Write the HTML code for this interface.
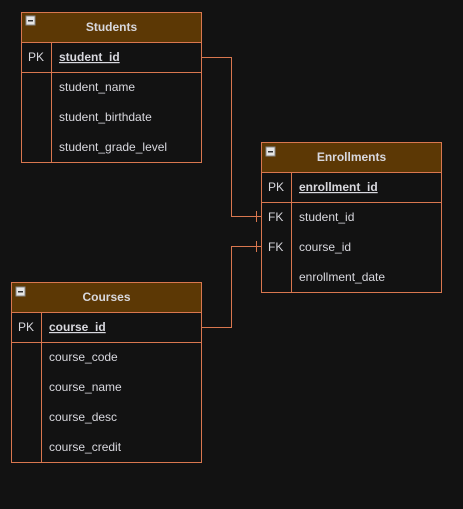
<!DOCTYPE html>
<html><head><meta charset="utf-8"><style>
html,body{margin:0;padding:0;background:#121212;}
svg{display:block;font-family:"Liberation Sans",sans-serif;}
</style></head><body>
<svg width="463" height="509" viewBox="0 0 463 509" xmlns="http://www.w3.org/2000/svg">
<rect width="463" height="509" fill="#121212"/>
<defs>
<g id="mini"><rect x="0" y="0" width="9" height="9" fill="#e6e6e6" stroke="#888" stroke-width="1"/><rect x="2" y="4" width="5" height="1.5" fill="#333"/></g>
</defs>
<g fill="none" stroke="#d9774f" stroke-width="1">
<rect x="21.5" y="12.5" width="180" height="150" fill="#121212"/>
<rect x="21.5" y="12.5" width="180" height="30" fill="#5c3805"/>
<line x1="21.5" y1="72.5" x2="201.5" y2="72.5"/>
<line x1="51.5" y1="42.5" x2="51.5" y2="162.5"/>
<rect x="261.5" y="142.5" width="180" height="150" fill="#121212"/>
<rect x="261.5" y="142.5" width="180" height="30" fill="#5c3805"/>
<line x1="261.5" y1="202.5" x2="441.5" y2="202.5"/>
<line x1="291.5" y1="172.5" x2="291.5" y2="292.5"/>
<rect x="11.5" y="282.5" width="190" height="180" fill="#121212"/>
<rect x="11.5" y="282.5" width="190" height="30" fill="#5c3805"/>
<line x1="11.5" y1="342.5" x2="201.5" y2="342.5"/>
<line x1="41.5" y1="312.5" x2="41.5" y2="462.5"/>
<polyline points="202,57.5 231.5,57.5 231.5,216.5 261,216.5"/>
<line x1="256.5" y1="211" x2="256.5" y2="222"/>
<polyline points="202,327.5 231.5,327.5 231.5,246.5 261,246.5"/>
<line x1="256.5" y1="241" x2="256.5" y2="252"/>
</g>
<use href="#mini" x="26" y="16"/>
<use href="#mini" x="266" y="147"/>
<use href="#mini" x="16" y="287"/>
<g fill="#d8d8de" font-size="12">
<text x="111.5" y="31" text-anchor="middle" font-weight="bold">Students</text>
<text x="28" y="61">PK</text>
<text x="59" y="61" font-weight="bold" text-decoration="underline">student_id</text>
<text x="59" y="91">student_name</text>
<text x="59" y="121">student_birthdate</text>
<text x="59" y="151">student_grade_level</text>

<text x="351.5" y="161" text-anchor="middle" font-weight="bold">Enrollments</text>
<text x="268" y="191">PK</text>
<text x="299" y="191" font-weight="bold" text-decoration="underline">enrollment_id</text>
<text x="268" y="221">FK</text>
<text x="299" y="221">student_id</text>
<text x="268" y="251">FK</text>
<text x="299" y="251">course_id</text>
<text x="299" y="281">enrollment_date</text>

<text x="106.5" y="301" text-anchor="middle" font-weight="bold">Courses</text>
<text x="18" y="331">PK</text>
<text x="49" y="331" font-weight="bold" text-decoration="underline">course_id</text>
<text x="49" y="361">course_code</text>
<text x="49" y="391">course_name</text>
<text x="49" y="421">course_desc</text>
<text x="49" y="451">course_credit</text>
</g>
</svg>
</body></html>
